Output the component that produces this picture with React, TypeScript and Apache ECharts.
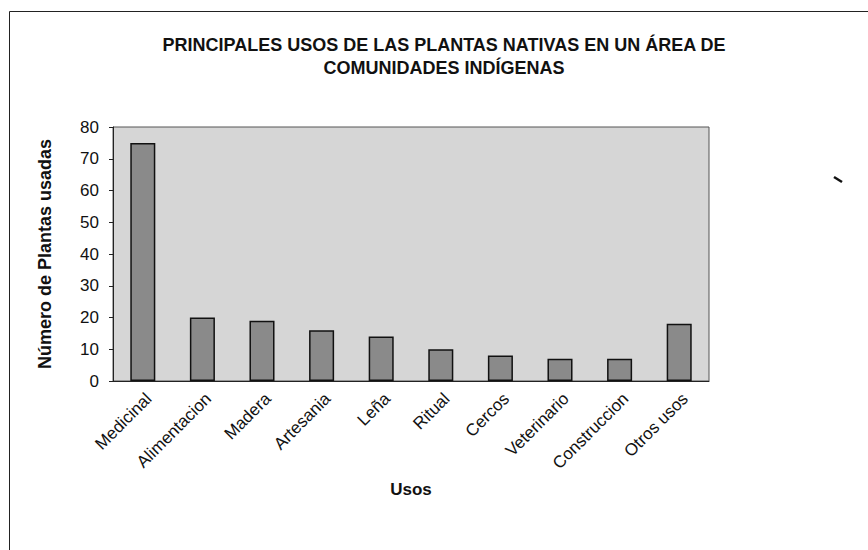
import React, { useEffect, useRef } from "react";
import * as echarts from "echarts";

const categories = [
  "Medicinal",
  "Alimentacion",
  "Madera",
  "Artesania",
  "Leña",
  "Ritual",
  "Cercos",
  "Veterinario",
  "Construccion",
  "Otros usos",
];
const values = [75, 20, 19, 16, 14, 10, 8, 7, 7, 18];
const yTicks = [0, 10, 20, 30, 40, 50, 60, 70, 80];

const titleLines = [
  "PRINCIPALES USOS DE LAS PLANTAS NATIVAS EN UN ÁREA DE",
  "COMUNIDADES INDÍGENAS",
];

export default function App() {
  const ref = useRef<HTMLDivElement>(null);
  useEffect(() => {
    if (!ref.current) return;
    const chart = echarts.init(ref.current, undefined, { renderer: "svg" });
    const font = "'Liberation Sans', Arial, sans-serif";
    chart.setOption({
      animation: false,
      backgroundColor: "#ffffff",
      title: {
        text: titleLines.join("\n"),
        left: 439,
        top: 28,
        textAlign: "center",
        textStyle: {
          fontFamily: font,
          fontSize: 18,
          fontWeight: "bold",
          color: "#111",
          lineHeight: 23,
        },
      },
      graphic: [
        {
          type: "rect",
          shape: { x: 9.5, y: 11.5, width: 900, height: 600 },
          style: { fill: "none", stroke: "#222", lineWidth: 1 },
          silent: true,
        },
        {
          type: "line",
          shape: { x1: 834, y1: 177, x2: 842, y2: 182 },
          style: { stroke: "#111", lineWidth: 2.5 },
          silent: true,
        },
      ],
      grid: {
        left: 113,
        top: 127,
        width: 596,
        height: 254,
        show: true,
        backgroundColor: "#d6d6d6",
        borderColor: "#555",
        borderWidth: 1,
      },
      xAxis: {
        type: "category",
        data: categories,
        name: "Usos",
        nameLocation: "middle",
        nameGap: 100,
        nameTextStyle: {
          fontFamily: font,
          fontSize: 17,
          fontWeight: "bold",
          color: "#111",
        },
        axisLine: { show: true, lineStyle: { color: "#222", width: 1 } },
        axisTick: { show: false },
        axisLabel: {
          rotate: 45,
          interval: 0,
          fontFamily: font,
          fontSize: 17,
          color: "#111",
          margin: 9,
          verticalAlign: "top",
        },
      },
      yAxis: {
        type: "value",
        min: yTicks[0],
        max: yTicks[yTicks.length - 1],
        interval: 10,
        name: "Número de Plantas usadas",
        nameLocation: "middle",
        nameGap: 59,
        nameTextStyle: {
          fontFamily: font,
          fontSize: 18,
          fontWeight: "bold",
          color: "#111",
        },
        axisLine: { show: true, lineStyle: { color: "#222", width: 1 } },
        axisTick: { show: true, length: 4, lineStyle: { color: "#222" } },
        splitLine: { show: false },
        axisLabel: {
          fontFamily: font,
          fontSize: 17,
          color: "#111",
          margin: 14,
        },
      },
      series: [
        {
          type: "bar",
          data: values,
          barWidth: "42%",
          itemStyle: {
            color: "#8a8a8a",
            borderColor: "#111",
            borderWidth: 1.5,
          },
        },
      ],
    });
    return () => chart.dispose();
  }, []);
  return (
    <div
      ref={ref}
      style={{ position: "absolute", left: 0, top: 0, width: 868, height: 550 }}
    />
  );
}
